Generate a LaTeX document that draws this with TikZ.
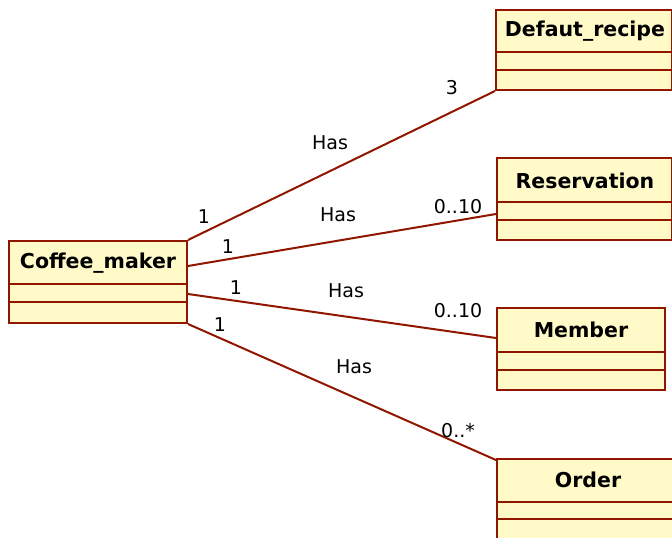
\documentclass[tikz,border=0pt]{standalone}
\usepackage{fontspec}
\setmainfont{DejaVu Sans}
\usetikzlibrary{calc}
\definecolor{umlline}{RGB}{145,22,0}
\definecolor{umlfill}{RGB}{255,250,200}
\tikzset{
  classbox/.style={draw=umlline, fill=umlfill, line width=2pt, rectangle, inner sep=0pt, anchor=north west},
  classname/.style={font=\fontsize{20.5}{24}\selectfont\bfseries, inner sep=0pt},
  assoc/.style={draw=umlline, line width=2pt},
  mult/.style={font=\fontsize{19}{22}\selectfont, inner sep=0pt},
  sep/.style={draw=umlline, line width=2pt}
}
\begin{document}
\begin{tikzpicture}[x=1pt,y=-1pt]
\useasboundingbox (0,0) rectangle (672,538);
% Classes
\node[classbox, minimum width=178pt, minimum height=82pt] (cm) at (8,240) {};
\node[classname] (cmn) at (98,263) {Coffee\_maker};
\draw[sep] ($(cm.north west)+(0,44)$) -- ($(cm.north east)+(0,44)$);
\draw[sep] ($(cm.north west)+(0,62)$) -- ($(cm.north east)+(0,62)$);

\node[classbox, minimum width=176pt, minimum height=80pt] (dr) at (495,9) {};
\node[classname] (drn) at (585,31) {Defaut\_recipe};
\draw[sep] ($(dr.north west)+(0,43)$) -- ($(dr.north east)+(0,43)$);
\draw[sep] ($(dr.north west)+(0,61)$) -- ($(dr.north east)+(0,61)$);

\node[classbox, minimum width=175pt, minimum height=82pt] (rs) at (496,157) {};
\node[classname] (rsn) at (585,181) {Reservation};
\draw[sep] ($(rs.north west)+(0,45)$) -- ($(rs.north east)+(0,45)$);
\draw[sep] ($(rs.north west)+(0,63)$) -- ($(rs.north east)+(0,63)$);

\node[classbox, minimum width=168pt, minimum height=82pt] (mb) at (496,307) {};
\node[classname] (mbn) at (581,330) {Member};
\draw[sep] ($(mb.north west)+(0,45)$) -- ($(mb.north east)+(0,45)$);
\draw[sep] ($(mb.north west)+(0,63)$) -- ($(mb.north east)+(0,63)$);

\node[classbox, minimum width=182pt, minimum height=90pt] (od) at (496,458) {};
\node[classname] (odn) at (588,480) {Order};
\draw[sep] ($(od.north west)+(0,44)$) -- ($(od.north east)+(0,44)$);
\draw[sep] ($(od.north west)+(0,61)$) -- ($(od.north east)+(0,61)$);

% Associations
\draw[assoc] (cm.north east) -- (dr.south west);
\draw[assoc] ($(cm.north east)+(0,26)$) -- ($(rs.north west)+(0,57)$);
\draw[assoc] ($(cm.north east)+(0,54)$) -- ($(mb.north west)+(0,31)$);
\draw[assoc] (cm.south east) -- ($(od.north west)+(0,2)$);

% Labels
\node[mult] (l1a) at (204,217) {1};
\node[mult] (l1h) at (330,143) {Has};
\node[mult] (l1b) at (452,88) {3};

\node[mult] (l2a) at (228,247) {1};
\node[mult] (l2h) at (338,215) {Has};
\node[mult] (l2b) at (458,207) {0..10};

\node[mult] (l3a) at (236,288) {1};
\node[mult] (l3h) at (346,291) {Has};
\node[mult] (l3b) at (458,311) {0..10};

\node[mult] (l4a) at (220,325) {1};
\node[mult] (l4h) at (354,367) {Has};
\node[mult] (l4b) at (458,431) {0..*};
\end{tikzpicture}
\end{document}
